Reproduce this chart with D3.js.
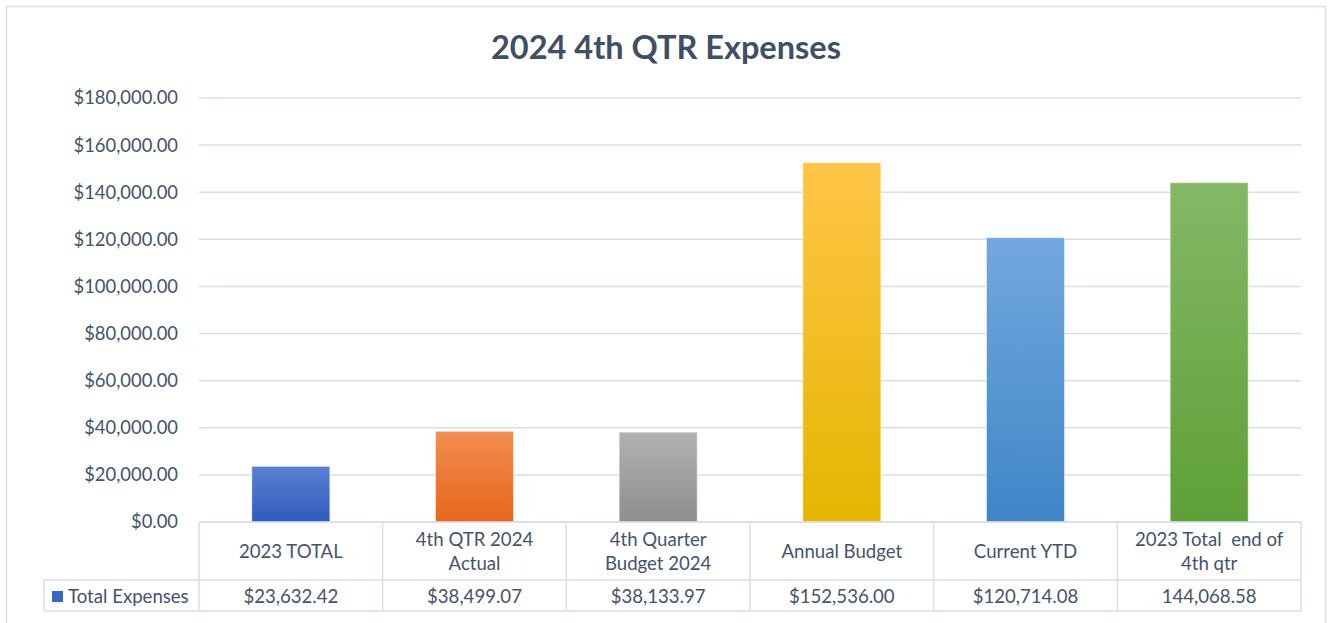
<!DOCTYPE html>
<html lang="en">
<head>
  <meta charset="UTF-8">
  <title>2024 4th QTR Expenses</title>
  <script src="https://d3js.org/d3.v7.min.js"></script>
  <style>
    body {
      margin: 0;
      padding: 0;
      background: #fff;
      overflow: hidden;
      font-family: Lato, "Open Sans", sans-serif;
    }
    svg { display: block; }
  </style>
</head>
<body>
  <div id="chart"></div>
  <script>
    // data
    const categories = [["2023 TOTAL"], ["4th QTR 2024", "Actual"], ["4th Quarter", "Budget 2024"], ["Annual Budget"], ["Current YTD"], ["2023 Total  end of", "4th qtr"]];
    const values = [23632.42, 38499.07, 38133.97, 152536.00, 120714.08, 144068.58];
    const valueLabels = ["$23,632.42", "$38,499.07", "$38,133.97", "$152,536.00", "$120,714.08", "144,068.58"];
    const seriesName = "Total Expenses";
    const yTicks = [0, 20000, 40000, 60000, 80000, 100000, 120000, 140000, 160000, 180000];
    const barColors = [["#5b80d2", "#2e5cbd"], ["#f48e52", "#e6661b"], ["#b2b2b2", "#8e8e8e"], ["#ffc547", "#e4b600"], ["#72a8de", "#3f86c7"], ["#84b866", "#5ea037"]];

    const W = 1331, H = 623;
    const plotLeft = 199, plotRight = 1301, plotTop = 98, plotBottom = 522;
    const row1 = 580, row2 = 611, legendLeft = 44;
    const textColor = "#44546a";
    const lineColor = "#d9dee8";
    const fs = "18.6px";

    const svg = d3.select("#chart").append("svg")
      .attr("width", W)
      .attr("height", H);

    // outer chart border
    svg.append("rect")
      .attr("x", 6.5).attr("y", 6.5)
      .attr("width", 1319).attr("height", 640)
      .attr("fill", "#fff")
      .attr("stroke", lineColor)
      .attr("stroke-width", 1.5);

    svg.append("text")
      .attr("x", 666).attr("y", 59)
      .attr("text-anchor", "middle")
      .attr("font-size", "32.5px")
      .attr("font-weight", "bold")
      .attr("fill", "#3f4f64")
      .text("2024 4th QTR Expenses");

    const x = d3.scaleBand()
      .domain(d3.range(categories.length))
      .range([plotLeft, plotRight])
      .paddingInner(0.575)
      .paddingOuter(0.2875);

    const xCell = d3.scaleBand()
      .domain(d3.range(categories.length))
      .range([plotLeft, plotRight]);

    const y = d3.scaleLinear()
      .domain([0, 180000])
      .range([plotBottom, plotTop]);

    // gridlines
    svg.append("g").selectAll("line")
      .data(yTicks)
      .enter().append("line")
      .attr("x1", plotLeft).attr("x2", plotRight)
      .attr("y1", d => y(d)).attr("y2", d => y(d))
      .attr("stroke", lineColor)
      .attr("stroke-width", 1.5);

    const yAxis = d3.axisLeft(y)
      .tickValues(yTicks)
      .tickSize(0)
      .tickPadding(21)
      .tickFormat(d => "$" + d3.format(",.2f")(d));

    const yG = svg.append("g")
      .attr("transform", `translate(${plotLeft},0)`)
      .call(yAxis);
    yG.select(".domain").remove();
    yG.selectAll("text")
      .attr("font-family", "Lato, sans-serif")
      .attr("font-size", "18.4px")
      .attr("fill", textColor);

    // gradients
    const defs = svg.append("defs");
    barColors.forEach((c, i) => {
      const g = defs.append("linearGradient")
        .attr("id", "grad" + i)
        .attr("x1", 0).attr("y1", 0).attr("x2", 0).attr("y2", 1);
      g.append("stop").attr("offset", "0%").attr("stop-color", c[0]);
      g.append("stop").attr("offset", "100%").attr("stop-color", c[1]);
    });

    svg.append("g").selectAll("rect")
      .data(values)
      .enter().append("rect")
      .attr("x", (d, i) => x(i))
      .attr("y", d => y(d))
      .attr("width", x.bandwidth())
      .attr("height", d => plotBottom - y(d))
      .attr("fill", (d, i) => `url(#grad${i})`)
      .attr("stroke", "rgba(255,255,255,0.5)")
      .attr("stroke-width", 1);

    // data table
    const table = svg.append("g")
      .attr("stroke", lineColor)
      .attr("stroke-width", 1.5);
    table.append("line").attr("x1", plotLeft).attr("x2", plotRight).attr("y1", plotBottom).attr("y2", plotBottom);
    table.append("line").attr("x1", legendLeft).attr("x2", plotRight).attr("y1", row1).attr("y2", row1);
    table.append("line").attr("x1", legendLeft).attr("x2", plotRight).attr("y1", row2).attr("y2", row2);
    table.append("line").attr("x1", legendLeft).attr("x2", legendLeft).attr("y1", row1).attr("y2", row2);
    table.selectAll(".vline")
      .data(d3.range(categories.length + 1))
      .enter().append("line")
      .attr("class", "vline")
      .attr("x1", i => i < categories.length ? xCell(i) : plotRight)
      .attr("x2", i => i < categories.length ? xCell(i) : plotRight)
      .attr("y1", plotBottom).attr("y2", row2);

    const catText = svg.append("g").selectAll("text")
      .data(categories)
      .enter().append("text")
      .attr("text-anchor", "middle")
      .attr("font-size", fs)
      .attr("fill", textColor)
      .attr("x", (d, i) => xCell(i) + xCell.bandwidth() / 2)
      .attr("y", d => (plotBottom + row1) / 2 + 7 - (d.length - 1) * 12);
    catText.selectAll("tspan")
      .data(d => d)
      .enter().append("tspan")
      .attr("x", function () { return this.parentNode.getAttribute("x"); })
      .attr("dy", (d, i) => i === 0 ? 0 : 24)
      .attr("xml:space", "preserve")
      .text(d => d);

    svg.append("g").selectAll("text")
      .data(valueLabels)
      .enter().append("text")
      .attr("text-anchor", "middle")
      .attr("font-size", fs)
      .attr("fill", textColor)
      .attr("x", (d, i) => xCell(i) + xCell.bandwidth() / 2)
      .attr("y", (row1 + row2) / 2 + 7)
      .text(d => d);

    // legend key
    svg.append("rect")
      .attr("x", 52).attr("y", 591)
      .attr("width", 11).attr("height", 11)
      .attr("fill", "#3a66c4");
    svg.append("text")
      .attr("x", 68).attr("y", (row1 + row2) / 2 + 7)
      .attr("font-size", fs)
      .attr("fill", textColor)
      .text(seriesName);
  </script>
</body>
</html>
